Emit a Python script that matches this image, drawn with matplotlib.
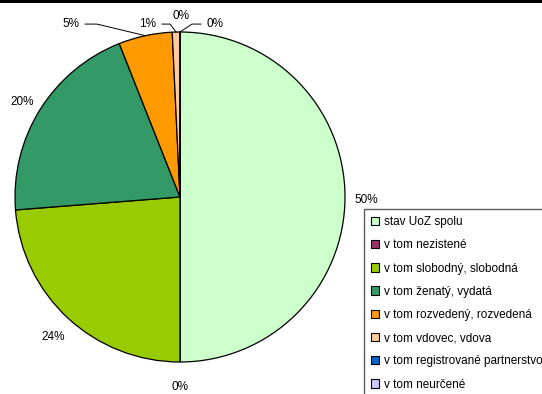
import numpy as np
import matplotlib
matplotlib.use("Agg")
import matplotlib.pyplot as plt
from matplotlib.patches import Rectangle

plt.rcParams['font.family'] = ['Liberation Sans', 'DejaVu Sans']

categories = ["stav UoZ spolu", "v tom nezistené", "v tom slobodný, slobodná",
              "v tom ženatý, vydatá", "v tom rozvedený, rozvedená", "v tom vdovec, vdova",
              "v tom registrované partnerstvo", "v tom neurčené"]
values = [1000, 0, 475, 405, 105, 15, 0, 0]
colors = ["#CCFFCC", "#993366", "#99CC00", "#339966", "#FF9900", "#FFCC99", "#0066CC", "#CCCCFF"]

# label layout for small slices at the top (text centre, elbow x) in axes data units
small_label_pos = {4: ((-0.66, 1.048), -0.503), 5: ((-0.194, 1.048), -0.06),
                   6: ((0.006, 1.097), None), 7: ((0.212, 1.048), 0.073)}

W, H = 542, 394
fig = plt.figure(figsize=(W / 100, H / 100), dpi=100)
fig.patch.set_facecolor("white")

cx, cy, r = 180, 197, 165
ax = fig.add_axes([(cx - r) / W, (H - cy - r) / H, 2 * r / W, 2 * r / H])
wedges, _ = ax.pie(values, colors=colors, startangle=90, counterclock=False,
                   wedgeprops=dict(edgecolor="black", linewidth=0.9))
ax.set_xlim(-1, 1)
ax.set_ylim(-1, 1)
ax.set_aspect("equal")
ax.axis("off")

total = sum(values)
fs = 8.5
for i, w in enumerate(wedges):
    pct = values[i] / total * 100
    txt = f"{pct:.0f}%"
    mid = np.deg2rad((w.theta1 + w.theta2) / 2)
    ex, ey = np.cos(mid), np.sin(mid)
    if i in small_label_pos:
        (tx, ty), elbow = small_label_pos[i]
        ax.text(tx, ty, txt, ha="center", va="center", fontsize=fs, color="black", clip_on=False)
        if elbow is not None:
            start = tx + (0.085 if elbow > tx else -0.085)
            ax.plot([start, elbow, ex * 1.0], [ty, ty, ey * 1.0], color="black",
                    linewidth=0.7, clip_on=False)
    else:
        d = 1.13
        ax.text(ex * d, ey * d - 0.02, txt, ha="center", va="center", fontsize=fs,
                color="black", clip_on=False)

leg = fig.legend(wedges, categories, loc="upper left",
                 bbox_to_anchor=(364 / W, 1 - 209 / H), bbox_transform=fig.transFigure,
                 borderaxespad=0, fontsize=fs, frameon=True, fancybox=False,
                 handlelength=0.7, handleheight=0.7, handletextpad=0.4,
                 labelspacing=0.95, borderpad=0.6)
leg.get_frame().set_edgecolor("#333333")
leg.get_frame().set_linewidth(1.0)
for h in leg.legend_handles:
    h.set_edgecolor("black")
    h.set_linewidth(0.8)

fig.add_artist(Rectangle((0, 1 - 3 / H), 1, 3 / H, transform=fig.transFigure,
                         facecolor="black", edgecolor="none"))

fig.savefig("out.png", dpi=100)
